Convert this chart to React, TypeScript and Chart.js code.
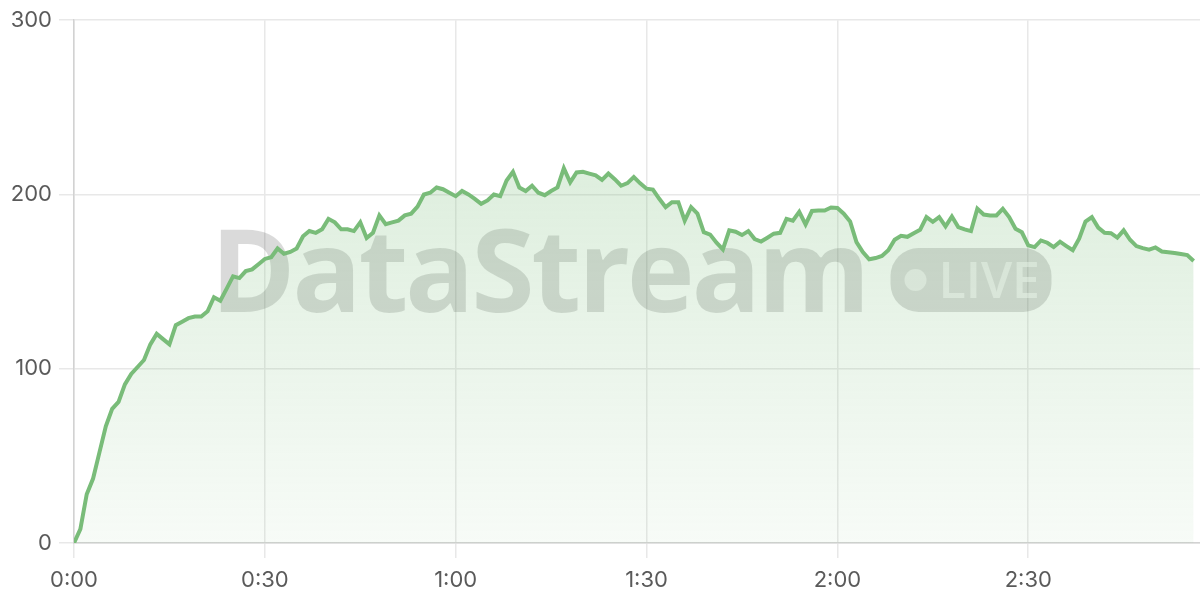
import React, { useEffect, useRef } from "react";
import { Chart, registerables } from "chart.js";

Chart.register(...registerables);

// Value per second, starting at 0:00
const values: number[] = [
  0, 8, 28, 37, 52, 67, 77, 81, 91, 97,
  101, 105, 114, 120, 117, 114, 125, 127, 129, 130,
  130, 133, 141, 139, 146, 153, 152, 156, 157, 160,
  163, 164, 169, 166, 167, 169, 176, 179, 178, 180,
  186, 184, 180, 180, 179, 184, 175, 178, 188, 183,
  184, 185, 188, 189, 193, 200, 201, 204, 203, 201,
  199, 202, 200, 197.5, 194.6, 196.6, 200, 199, 208, 213,
  204, 202, 205, 201, 199.6, 202, 204, 215, 207, 212.6,
  213, 212, 211, 208.4, 212, 208.8, 205, 206.5, 210, 206.4,
  203.3, 202.8, 197.5, 192.7, 195.6, 195.6, 185, 192.7, 189, 178.4,
  177, 172.3, 168.5, 179.4, 178.6, 176.7, 179, 174.4, 173, 175.2,
  177.5, 178, 186, 185, 190, 182.8, 190.5, 190.8, 190.8, 192.5,
  192.2, 189, 184.5, 172.7, 167, 162.8, 163.5, 164.7, 168, 174,
  176.3, 175.7, 177.8, 179.7, 187, 184.3, 187, 181.7, 187.4, 181.3,
  180, 179, 191.8, 188.5, 188, 188, 191.8, 187, 180.3, 178.3,
  170.8, 169.8, 173.6, 172.3, 169.8, 172.9, 170.4, 168, 174.6, 184.5,
  187, 181, 178, 177.8, 175.2, 179.4, 174, 170.4, 169.2, 168.3,
  169.6, 167.3, 166.9, 166.4, 165.8, 165.2, 161.8,
];

const xTickValues: number[] = [0, 30, 60, 90, 120, 150];
const yTickValues: number[] = [0, 100, 200, 300];
const xMax = 177;
const watermarkTitle = "DataStream";
const watermarkBadge = "LIVE";

function formatTime(sec: number): string {
  const m = Math.floor(sec / 60);
  const s = Math.round(sec % 60);
  return `${m}:${String(s).padStart(2, "0")}`;
}

const watermarkPlugin = {
  id: "watermark",
  beforeDatasetsDraw(chart: any) {
    const { ctx, chartArea } = chart;
    ctx.save();
    const titleFont = '700 115px "Open Sans"';
    const badgeFont = '600 50px "Open Sans"';
    ctx.font = titleFont;
    const rawW = ctx.measureText(watermarkTitle).width;
    const targetW = 660;
    const spacing = (targetW - rawW) / (watermarkTitle.length - 1);
    (ctx as any).letterSpacing = `${spacing}px`;
    const tw = targetW;
    const gap = 20;
    const pillW = 161;
    const pillH = 64;
    const total = tw + gap + pillW;
    const cx = (chartArea.left + chartArea.right) / 2 - 6;
    const startX = cx - total / 2;
    const baseY = 312;
    ctx.fillStyle = "rgba(0,0,0,0.145)";
    ctx.textBaseline = "alphabetic";
    ctx.textAlign = "left";
    ctx.fillText(watermarkTitle, startX, baseY);
    (ctx as any).letterSpacing = "0px";

    const px = startX + tw + gap;
    const py = 248;
    const r = 28;
    ctx.beginPath();
    ctx.moveTo(px + r, py);
    ctx.lineTo(px + pillW - r, py);
    ctx.arcTo(px + pillW, py, px + pillW, py + r, r);
    ctx.lineTo(px + pillW, py + pillH - r);
    ctx.arcTo(px + pillW, py + pillH, px + pillW - r, py + pillH, r);
    ctx.lineTo(px + r, py + pillH);
    ctx.arcTo(px, py + pillH, px, py + pillH - r, r);
    ctx.lineTo(px, py + r);
    ctx.arcTo(px, py, px + r, py, r);
    ctx.closePath();
    ctx.fill();

    ctx.fillStyle = "rgba(255,255,255,0.55)";
    ctx.beginPath();
    ctx.arc(px + 25, py + 32, 11, 0, Math.PI * 2);
    ctx.fill();
    ctx.font = badgeFont;
    ctx.fillText(watermarkBadge, px + 48, 298);
    ctx.restore();
  },
};

export default function App() {
  const canvasRef = useRef<HTMLCanvasElement | null>(null);

  useEffect(() => {
    const canvas = canvasRef.current;
    if (!canvas) return;
    const chart = new Chart(canvas, {
      type: "line",
      data: {
        datasets: [
          {
            data: values.map((v, i) => ({ x: i, y: v })),
            borderColor: "rgb(121,188,121)",
            borderWidth: 4,
            pointRadius: 0,
            tension: 0,
            fill: "origin",
            backgroundColor: (context: any) => {
              const area = context.chart.chartArea;
              if (!area) return "rgba(121,188,121,0.2)";
              const g = context.chart.ctx.createLinearGradient(0, area.top, 0, area.bottom);
              g.addColorStop(0, "rgba(121,188,121,0.32)");
              g.addColorStop(1, "rgba(121,188,121,0.06)");
              return g;
            },
          },
        ],
      },
      options: {
        animation: false,
        responsive: true,
        maintainAspectRatio: false,
        layout: { padding: { top: 19, right: 0, bottom: 0, left: 0 } },
        plugins: {
          legend: { display: false },
          tooltip: { enabled: false },
        },
        scales: {
          x: {
            type: "linear",
            min: 0,
            max: xMax,
            afterBuildTicks: (scale: any) => {
              scale.ticks = xTickValues.map((v) => ({ value: v }));
            },
            afterFit: (scale: any) => {
              scale.height = 57;
            },
            grid: { color: "#e8e8e8", tickLength: 15, lineWidth: 1.5 },
            border: { color: "#d2d2d2", width: 1.5 },
            ticks: {
              callback: (v: any) => formatTime(Number(v)),
              font: { family: "Inter", size: 22 },
              color: "#5a5a5a",
              padding: 9,
              maxRotation: 0,
              autoSkip: false,
            },
          },
          y: {
            min: 0,
            max: 300,
            afterBuildTicks: (scale: any) => {
              scale.ticks = yTickValues.map((v) => ({ value: v }));
            },
            afterFit: (scale: any) => {
              scale.width = 74;
            },
            grid: { color: "#e8e8e8", tickLength: 15, lineWidth: 1.5 },
            border: { color: "#d2d2d2", width: 1.5 },
            ticks: {
              font: { family: "Inter", size: 22 },
              color: "#5a5a5a",
              padding: 7,
            },
          },
        },
      },
      plugins: [watermarkPlugin],
    });
    return () => chart.destroy();
  }, []);

  return (
    <div style={{ position: "fixed", left: 0, top: 0, width: 1200, height: 600, background: "#fff" }}>
      <canvas ref={canvasRef} />
    </div>
  );
}
